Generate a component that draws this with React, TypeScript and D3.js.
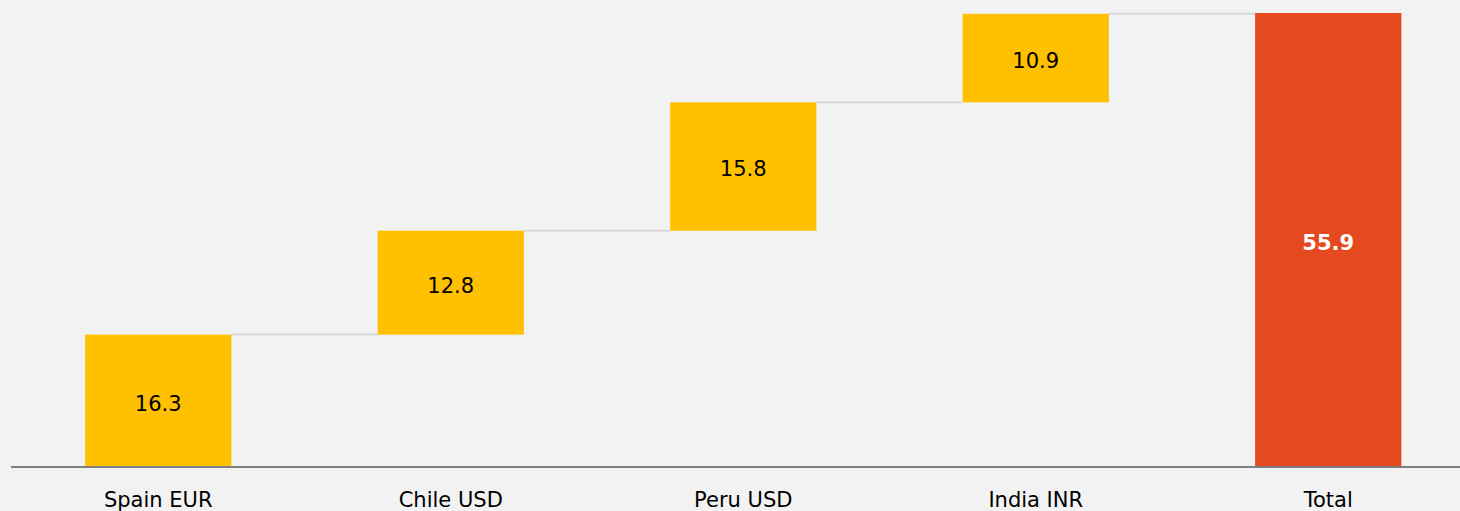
import React from "react";
import * as d3 from "d3";

const categories = ["Spain EUR", "Chile USD", "Peru USD", "India INR", "Total"];
const values = [16.3, 12.8, 15.8, 10.9, 55.9];
const isTotal = [false, false, false, false, true];

const W = 1460;
const H = 511;
const FONT = "'DejaVu Sans', Verdana, sans-serif";

export default function App() {
  const x = d3
    .scaleBand<string>()
    .domain(categories)
    .range([12, 12 + 292.5 * 5])
    .paddingInner(0.5)
    .paddingOuter(0.25);
  const y = d3.scaleLinear().domain([0, 55.9]).range([467, 13]);

  let cum = 0;
  const bars = categories.map((c, i) => {
    let start: number, end: number;
    if (isTotal[i]) {
      start = 0;
      end = values[i];
    } else {
      start = cum;
      end = cum + values[i];
      cum = end;
    }
    return { c, v: values[i], start, end, total: isTotal[i] };
  });

  return (
    <svg
      width={W}
      height={H}
      style={{ position: "fixed", left: 0, top: 0, background: "#f2f2f2" }}
    >
      <rect x={0} y={0} width={W} height={H} fill="#f2f2f2" />
      {bars.slice(0, -1).map((b, i) => {
        const n = bars[i + 1];
        const yy = y(b.end);
        return (
          <line
            key={"c" + i}
            x1={(x(b.c) as number) + x.bandwidth()}
            x2={x(n.c) as number}
            y1={yy}
            y2={yy}
            stroke="#d9d9d9"
            strokeWidth={2}
          />
        );
      })}
      {bars.map((b) => {
        const x0 = x(b.c) as number;
        const yTop = y(b.end);
        const yBot = y(b.start);
        return (
          <g key={b.c}>
            <rect
              x={x0}
              y={yTop}
              width={x.bandwidth()}
              height={yBot - yTop}
              fill={b.total ? "#e4491f" : "#ffc000"}
            />
            <text
              x={x0 + x.bandwidth() / 2}
              y={(yTop + yBot) / 2 + 10}
              textAnchor="middle"
              fontFamily={FONT}
              fontSize={21}
              fontWeight={b.total ? "bold" : "normal"}
              fill={b.total ? "#ffffff" : "#000000"}
            >
              {b.v.toFixed(1)}
            </text>
            <text
              x={x0 + x.bandwidth() / 2}
              y={507}
              textAnchor="middle"
              fontFamily={FONT}
              fontSize={21}
              fill="#000000"
            >
              {b.c}
            </text>
          </g>
        );
      })}
      <line x1={11} x2={W} y1={467} y2={467} stroke="#7f7f7f" strokeWidth={2} />
    </svg>
  );
}
